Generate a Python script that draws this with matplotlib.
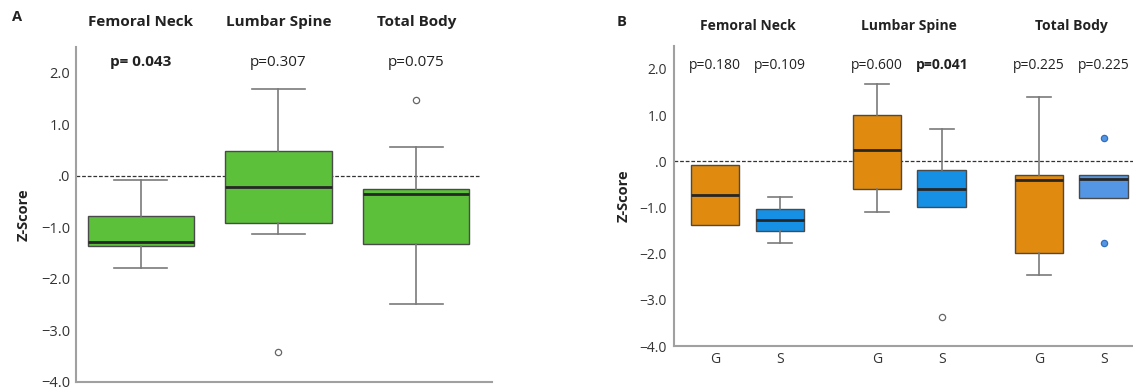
import numpy as np
import matplotlib
matplotlib.use("Agg")
import matplotlib.pyplot as plt
import matplotlib.ticker as ticker
import matplotlib.transforms as mtransforms

FONT = "Open Sans"
TXT = "#222222"
SPINE = "#a0a0a0"

# panel A: all patients, one box per site
A_sites = ["Femoral Neck", "Lumbar Spine", "Total Body"]
A_whislo = [-1.78, -1.12, -2.48]
A_q1 = [-1.37, -0.91, -1.32]
A_med = [-1.28, -0.21, -0.35]
A_q3 = [-0.78, 0.48, -0.26]
A_whishi = [-0.08, 1.68, 0.56]
A_fliers = [[], [-3.41], [1.48]]
A_pvals = ["p= 0.043", "p=0.307", "p=0.075"]
A_pbold = [True, False, False]

# panel B: G / S per site
B_sites = ["Femoral Neck", "Lumbar Spine", "Total Body"]
B_groups = ["G", "S"]
B_whislo = [-1.37, -1.77, -1.09, -0.99, -2.47, -0.80]
B_q1 = [-1.37, -1.52, -0.60, -0.99, -1.99, -0.80]
B_med = [-0.73, -1.27, 0.24, -0.60, -0.40, -0.39]
B_q3 = [-0.08, -1.03, 0.99, -0.20, -0.29, -0.29]
B_whishi = [-0.08, -0.78, 1.68, 0.70, 1.39, -0.29]
B_fliers = [[], [], [], [-3.37], [], [0.50, -1.78]]
B_pvals = ["p=0.180", "p=0.109", "p=0.600", "p=0.041", "p=0.225", "p=0.225"]
B_pbold = [False, False, False, True, False, False]

GREEN = "#5cc03a"
ORANGE = "#e08a10"
BLUE = "#1690e4"
LBLUE = "#5596e4"
B_colors = [ORANGE, BLUE, ORANGE, BLUE, ORANGE, LBLUE]


def make_stats(lo, q1, med, q3, hi, fl):
    return [dict(whislo=a, q1=b, med=c, q3=d, whishi=e, fliers=f)
            for a, b, c, d, e, f in zip(lo, q1, med, q3, hi, fl)]


def zfmt(v, pos):
    if abs(v) < 1e-9:
        return ".0"
    s = f"{abs(v):.1f}"
    return ("\u2212" + s) if v < 0 else s


def draw_boxes(ax, stats, positions, width, colors, flier_faces, flier_edges):
    for st, p, c, ff, fe in zip(stats, positions, colors, flier_faces, flier_edges):
        art = ax.bxp([st], positions=[p], widths=width, patch_artist=True,
                     capwidths=width * 0.5,
                     boxprops=dict(facecolor=c, edgecolor="#4a4a4a", linewidth=1.0),
                     medianprops=dict(color="#262626", linewidth=2.0),
                     whiskerprops=dict(color="#7a7a7a", linewidth=1.2),
                     capprops=dict(color="#7a7a7a", linewidth=1.2),
                     flierprops=dict(marker="o", markersize=4.5, markerfacecolor=ff,
                                     markeredgecolor=fe, markeredgewidth=0.9))
        # no cap where the whisker has zero length
        if st["whislo"] == st["q1"]:
            art["caps"][0].set_visible(False)
        if st["whishi"] == st["q3"]:
            art["caps"][1].set_visible(False)


def style_axis(ax, fs, pad):
    for s in ["top", "right"]:
        ax.spines[s].set_visible(False)
    for s in ["left", "bottom"]:
        ax.spines[s].set_color(SPINE)
        ax.spines[s].set_linewidth(1.5)
    ax.set_ylim(-4.0, 2.5)
    ax.yaxis.set_major_locator(ticker.MultipleLocator(1.0))
    ax.yaxis.set_major_formatter(ticker.FuncFormatter(zfmt))
    ax.tick_params(axis="y", length=0, pad=pad, labelsize=fs, labelcolor="#333333")
    for t in ax.get_yticklabels():
        t.set_fontfamily(FONT)


fig = plt.figure(figsize=(11.33, 3.88), dpi=100)

# ---------------- panel A ----------------
axA = fig.add_axes([0.0671, 0.0155, 0.3671, 0.8635])
posA = np.arange(1, len(A_sites) + 1)
statsA = make_stats(A_whislo, A_q1, A_med, A_q3, A_whishi, A_fliers)
draw_boxes(axA, statsA, posA, 0.77, [GREEN] * 3, ["white"] * 3, ["#666666"] * 3)
axA.set_xlim(0.53, 3.55)
style_axis(axA, 10.5, 4)
axA.set_xticks([])
axA.axhline(0, xmin=0, xmax=0.97, color="#333333", linestyle=(0, (3, 1.5)),
            linewidth=0.9, zorder=0.5)
axA.set_ylabel("Z-Score", fontfamily=FONT, fontweight="bold", fontsize=10.5, color=TXT)
axA.yaxis.set_label_coords(-0.11, 0.5)

trA = mtransforms.blended_transform_factory(axA.transData, fig.transFigure)
for p, name in zip(posA, A_sites):
    axA.text(p, 1 - 22 / 388, name, transform=trA, ha="center", va="center",
             fontfamily=FONT, fontweight="bold", fontsize=11, color=TXT)
for p, pv, b in zip(posA, A_pvals, A_pbold):
    axA.text(p, 2.2, pv, ha="center", va="center", fontfamily=FONT,
             fontweight="bold" if b else "normal", fontsize=11, color=TXT)
fig.text(17 / 1133, 1 - 17 / 388, "A", ha="center", va="center", fontfamily=FONT,
         fontweight="bold", fontsize=10.5, color=TXT)

# ---------------- panel B ----------------
axB = fig.add_axes([674 / 1133, 0.1082, 518 / 1133, 0.774])
gpos = np.arange(len(B_sites))
posB = np.array([[g - 0.2, g + 0.2] for g in gpos]).ravel()
statsB = make_stats(B_whislo, B_q1, B_med, B_q3, B_whishi, B_fliers)
ffB = ["white"] * 5 + [LBLUE]
feB = ["#666666"] * 5 + ["#2f6fc0"]
draw_boxes(axB, statsB, posB, 0.30, B_colors, ffB, feB)
axB.set_xlim(-0.454, 2.746)
style_axis(axB, 10, 5)
axB.set_xticks(posB)
axB.set_xticklabels(B_groups * len(B_sites))
axB.tick_params(axis="x", length=0, pad=4, labelsize=10, labelcolor="#333333")
for t in axB.get_xticklabels():
    t.set_fontfamily(FONT)
axB.axhline(0, color="#333333", linestyle=(0, (3, 1.5)), linewidth=0.9, zorder=0.5)
axB.set_ylabel("Z-Score", fontfamily=FONT, fontweight="bold", fontsize=10.5, color=TXT)
axB.yaxis.set_label_coords(-0.083, 0.5)

trB = mtransforms.blended_transform_factory(axB.transData, fig.transFigure)
for g, name in zip(gpos, B_sites):
    axB.text(g, 1 - 26 / 388, name, transform=trB, ha="center", va="center",
             fontfamily=FONT, fontweight="bold", fontsize=10, color=TXT)
for p, pv, b in zip(posB, B_pvals, B_pbold):
    axB.text(p, 2.08, pv, ha="center", va="center", fontfamily=FONT,
             fontweight="bold" if b else "normal", fontsize=10, color=TXT)
fig.text(622 / 1133, 1 - 22 / 388, "B", ha="center", va="center", fontfamily=FONT,
         fontweight="bold", fontsize=10.5, color=TXT)

fig.savefig("out.png", dpi=100)
